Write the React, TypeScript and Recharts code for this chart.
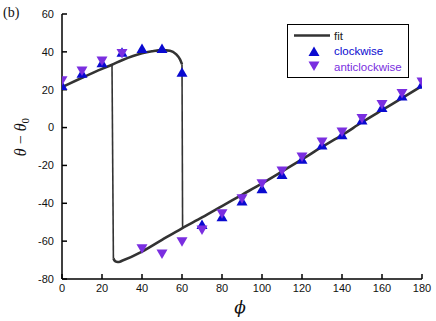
import { ComposedChart, Line, Scatter, XAxis, YAxis } from 'recharts'

// measured angles (degrees)
const phi = [0, 10, 20, 30, 40, 50, 60, 70, 80, 90, 100, 110, 120, 130, 140, 150, 160, 170, 180]
const clockwise = [22, 28.5, 34, 39.5, 41.5, 41.5, 29, -51.5, -47.4, -39, -32.6, -25, -17, -9.5, -4, 3.7, 10.3, 16.4, 22.6]
const anticlockwise = [25, 30.2, 35.4, 39.4, -63.8, -66.5, -60, -53.8, -45.3, -37.4, -29.4, -22.7, -15.3, -7.4, -2.1, 5, 12.5, 18.2, 24.3]

// fit curve, split into branches
const upperPhi = [0, 10, 20, 25, 30, 40, 45, 50, 54, 57, 59, 60]
const upperFit = [21.4, 26.3, 31, 33.2, 35.6, 39.3, 40.3, 40.9, 40.6, 38.8, 36, 33.5]
const dropRightPhi = [60, 60.3]
const dropRightFit = [33.5, -52.8]
const dropLeftPhi = [25, 25.7]
const dropLeftFit = [33.2, -69]
const lowerPhi = [25.7, 26.3, 27.2, 28.5, 30, 40, 50, 60, 70, 80, 90, 100, 110, 120, 130, 140, 150, 160, 170, 180]
const lowerFit = [-69, -70.3, -70.9, -71, -70.4, -65.5, -59.3, -53.2, -47.5, -41.5, -35.5, -29.5, -23.2, -16.8, -10.2, -4, 2.8, 9.2, 15.5, 22]

const xTicks = [0, 20, 40, 60, 80, 100, 120, 140, 160, 180]
const yTicks = [-80, -60, -40, -20, 0, 20, 40, 60]

const BLUE = '#0a0ad0'
const PURPLE = '#7a2ee0'
const FIT = '#333333'

const pts = (xs: number[], ys: number[]) => xs.map((x, i) => ({ x, y: ys[i] }))

const cwData = pts(phi, clockwise)
const acwData = pts(phi, anticlockwise)

function TriUp(props: any) {
  const { cx, cy } = props
  return <polygon points={`${cx},${cy - 5.5} ${cx + 5.5},${cy + 4} ${cx - 5.5},${cy + 4}`} fill={BLUE} />
}

function TriDown(props: any) {
  const { cx, cy } = props
  return <polygon points={`${cx},${cy + 5.5} ${cx + 5.5},${cy - 4} ${cx - 5.5},${cy - 4}`} fill={PURPLE} />
}

const tickFont = { fontSize: 11, fill: '#111', fontFamily: '"Liberation Sans", Arial, sans-serif' }
const frame = { stroke: '#000', strokeWidth: 1.5 }

export default function App() {
  return (
    <div style={{ position: 'absolute', left: 0, top: 0, width: 436, height: 321, background: '#fff' }}>
      <ComposedChart width={436} height={321} margin={{ top: 14, right: 14, bottom: 12, left: 0 }}>
        <XAxis
          xAxisId="b"
          dataKey="x"
          type="number"
          domain={[0, 180]}
          ticks={xTicks}
          height={30}
          tick={tickFont}
          tickSize={-5}
          tickMargin={10}
          axisLine={frame}
          tickLine={frame}
          allowDataOverflow
        />
        <XAxis
          xAxisId="t"
          orientation="top"
          dataKey="x"
          type="number"
          domain={[0, 180]}
          ticks={xTicks}
          height={0}
          tickSize={-5}
          tickFormatter={() => ''}
          axisLine={frame}
          tickLine={frame}
        />
        <YAxis
          yAxisId="l"
          dataKey="y"
          type="number"
          domain={[-80, 60]}
          ticks={yTicks}
          width={62}
          tick={tickFont}
          tickSize={-5}
          tickMargin={13}
          axisLine={frame}
          tickLine={frame}
          allowDataOverflow
        />
        <YAxis
          yAxisId="r"
          orientation="right"
          dataKey="y"
          type="number"
          domain={[-80, 60]}
          ticks={yTicks}
          width={0}
          tickSize={-5}
          tickFormatter={() => ''}
          axisLine={frame}
          tickLine={frame}
        />
        <Line xAxisId="b" yAxisId="l" data={pts(dropLeftPhi, dropLeftFit)} dataKey="y" type="linear" stroke={FIT} strokeWidth={1.6} dot={false} isAnimationActive={false} />
        <Line xAxisId="b" yAxisId="l" data={pts(dropRightPhi, dropRightFit)} dataKey="y" type="linear" stroke={FIT} strokeWidth={1.6} dot={false} isAnimationActive={false} />
        <Line xAxisId="b" yAxisId="l" data={pts(upperPhi, upperFit)} dataKey="y" type="monotone" stroke={FIT} strokeWidth={2.6} dot={false} isAnimationActive={false} />
        <Line xAxisId="b" yAxisId="l" data={pts(lowerPhi, lowerFit)} dataKey="y" type="monotone" stroke={FIT} strokeWidth={2.6} dot={false} isAnimationActive={false} />
        <Scatter xAxisId="b" yAxisId="l" data={cwData} dataKey="y" shape={TriUp} isAnimationActive={false} />
        <Scatter xAxisId="b" yAxisId="l" data={acwData} dataKey="y" shape={TriDown} isAnimationActive={false} />
      </ComposedChart>

      {/* legend */}
      <div
        style={{
          position: 'absolute',
          left: 287,
          top: 24,
          width: 120,
          height: 52,
          border: '1.2px solid #000',
          background: '#fff',
          fontFamily: '"Liberation Sans", Arial, sans-serif',
          fontSize: 11.5,
        }}
      >
        <svg width={120} height={52} style={{ position: 'absolute', left: 0, top: 0 }}>
          <line x1={6} y1={10.5} x2={42} y2={10.5} stroke={FIT} strokeWidth={2.4} />
          <polygon points="26,21.5 31.5,31 20.5,31" fill={BLUE} />
          <polygon points="26,46 31.5,36.5 20.5,36.5" fill={PURPLE} />
          <text x={46} y={14.5} fill="#222">fit</text>
          <text x={46} y={30} fill={BLUE}>clockwise</text>
          <text x={46} y={45.5} fill={PURPLE}>anticlockwise</text>
        </svg>
      </div>

      {/* titles */}
      <svg width={436} height={321} style={{ position: 'absolute', left: 0, top: 0, pointerEvents: 'none' }}>
        <text x={3} y={17} fontSize={14} fontFamily='"Liberation Serif", "DejaVu Serif", serif' fill="#111">(b)</text>
        <text x={240} y={313} fontSize={17} fontStyle="italic" textAnchor="middle" fontFamily='"DejaVu Serif", "Liberation Serif", serif' fill="#111">ϕ</text>
        <text
          x={0}
          y={0}
          transform="translate(26,137) rotate(-90)"
          fontSize={16}
          textAnchor="middle"
          fontFamily='"Liberation Serif", "DejaVu Serif", serif'
          fill="#111"
        >
          <tspan fontStyle="italic">θ</tspan>
          <tspan> − </tspan>
          <tspan fontStyle="italic">θ</tspan>
          <tspan fontSize={11} dy={3}>0</tspan>
        </text>
      </svg>
    </div>
  )
}
